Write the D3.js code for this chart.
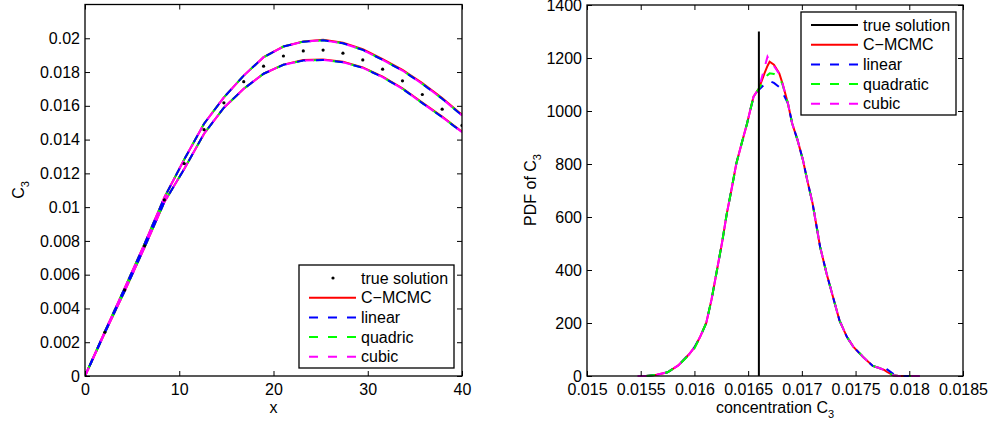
<!DOCTYPE html>
<html>
<head>
<meta charset="utf-8">
<script src="https://cdn.jsdelivr.net/npm/d3@7/dist/d3.min.js"></script>
<style>
  html, body { margin: 0; padding: 0; background: #fff; }
  svg { display: block; font-family: "Liberation Sans", Arial, Helvetica, sans-serif; }
</style>
</head>
<body>
<svg id="fig" width="990" height="425"></svg>
<script>
// ---- Left panel: C3 profile along x ----
const xPos = [0, 2.105, 4.211, 6.316, 8.421, 10.526, 12.632, 14.737, 16.842, 18.947,
  21.053, 23.158, 25.263, 27.368, 29.474, 31.579, 33.684, 35.789, 37.895, 40];
const trueSolution = [0, 0.00259, 0.00510, 0.00771, 0.01043, 0.01258, 0.01459, 0.01618, 0.01743, 0.01835,
  0.01895, 0.01925, 0.01930, 0.01912, 0.01872, 0.01817, 0.01748, 0.01667, 0.01580, 0.01484];
// C-MCMC band bounds
const cmcmcUpper = [0, 0.00263, 0.00520, 0.00782, 0.01057, 0.01282, 0.01494, 0.01650, 0.01779, 0.01888,
  0.01951, 0.01981, 0.01991, 0.01974, 0.01935, 0.01876, 0.01813, 0.01734, 0.01646, 0.01547];
const cmcmcLower = [0, 0.00256, 0.00503, 0.00762, 0.01030, 0.01226, 0.01435, 0.01589, 0.01701, 0.01790,
  0.01844, 0.01871, 0.01875, 0.01861, 0.01828, 0.01773, 0.01704, 0.01619, 0.01536, 0.01447];
// surrogate band bounds
const linearUpper = [0, 0.00263, 0.00520, 0.00782, 0.01057, 0.01282, 0.01494, 0.01650, 0.01779, 0.01888,
  0.01951, 0.01980, 0.01988, 0.01970, 0.01931, 0.01872, 0.01809, 0.01730, 0.01642, 0.01543];
const linearLower = [0, 0.00256, 0.00503, 0.00762, 0.01030, 0.01226, 0.01435, 0.01589, 0.01701, 0.01790,
  0.01843, 0.01868, 0.01872, 0.01858, 0.01825, 0.01770, 0.01701, 0.01616, 0.01533, 0.01444];
const quadricUpper = [0, 0.00263, 0.00520, 0.00782, 0.01057, 0.01282, 0.01494, 0.01650, 0.01779, 0.01888,
  0.01951, 0.01980, 0.01988, 0.01970, 0.01931, 0.01872, 0.01809, 0.01730, 0.01642, 0.01543];
const quadricLower = [0, 0.00256, 0.00503, 0.00762, 0.01030, 0.01226, 0.01435, 0.01589, 0.01701, 0.01790,
  0.01843, 0.01868, 0.01872, 0.01858, 0.01825, 0.01770, 0.01701, 0.01616, 0.01533, 0.01444];
const cubicUpper = [0, 0.00263, 0.00520, 0.00782, 0.01057, 0.01282, 0.01494, 0.01650, 0.01779, 0.01888,
  0.01951, 0.01980, 0.01988, 0.01970, 0.01931, 0.01872, 0.01809, 0.01730, 0.01642, 0.01543];
const cubicLower = [0, 0.00256, 0.00503, 0.00762, 0.01030, 0.01226, 0.01435, 0.01589, 0.01701, 0.01790,
  0.01843, 0.01868, 0.01872, 0.01858, 0.01825, 0.01770, 0.01701, 0.01616, 0.01533, 0.01444];
const xTicks = [0, 10, 20, 30, 40];
const c3Ticks = [0, 0.002, 0.004, 0.006, 0.008, 0.01, 0.012, 0.014, 0.016, 0.018, 0.02];

// ---- Right panel: PDF of C3 ----
const concGrid = [0.01547, 0.01555, 0.01565, 0.01575, 0.01585, 0.01595, 0.01600, 0.01605, 0.01611, 0.01616,
  0.01621, 0.01626, 0.01630, 0.01635, 0.01639, 0.01644, 0.01649, 0.01652, 0.01655, 0.01660,
  0.01665, 0.01668, 0.01670, 0.01674, 0.01679, 0.01682, 0.01687, 0.01691, 0.01696, 0.01701,
  0.01705, 0.01710, 0.01717, 0.01723, 0.01729, 0.01735, 0.01742, 0.01748, 0.01757, 0.01766,
  0.01772, 0.01777, 0.01779, 0.01785, 0.01790, 0.01800, 0.01806, 0.01810, 0.01816];
const pdfCmcmc = [null, 0, 5, 14, 40, 82, 108, 145, 200, 290,
  400, 510, 610, 714, 802, 878, 953, 1004, 1054, 1085,
  1140, 1170, 1186, 1175, 1142, 1104, 1029, 953, 890, 815,
  739, 651, 487, 387, 298, 210, 147, 110, 72, 38,
  30, 22, 16, 3, 0, 0, 0, null, null];
const pdfLinear = [null, 0, 5, 14, 40, 82, 108, 145, 200, 290,
  400, 510, 610, 714, 802, 878, 953, 1004, 1050, 1080,
  1100, 1112, 1113, 1106, 1090, 1070, 1029, 953, 890, 815,
  739, 651, 487, 387, 298, 210, 147, 110, 72, 38,
  30, 32, 26, 8, 0, 0, 0, 0, null];
const pdfQuadratic = [null, 0, 5, 14, 40, 80, 104, 145, 200, 290,
  400, 510, 610, 714, 802, 878, 953, 1004, 1054, 1085,
  1115, 1135, 1142, 1140, 1128, 1100, 1029, 953, 890, 815,
  739, 651, 487, 387, 298, 210, 147, 110, 72, 38,
  30, 22, 16, 3, 0, 0, 0, 0, 0];
const pdfCubic = [0, 0, 5, 14, 40, 82, 108, 145, 200, 290,
  400, 510, 610, 714, 802, 878, 953, 1004, 1054, 1085,
  1160, 1205, 1190, 1170, 1140, 1104, 1029, 953, 890, 815,
  739, 651, 487, 387, 298, 210, 147, 110, 72, 38,
  30, 22, 16, 3, 0, 0, 0, 0, 0];
const trueC3 = 0.0166;
const trueLineTop = 1300;
const concTicks = [0.015, 0.0155, 0.016, 0.0165, 0.017, 0.0175, 0.018, 0.0185];
const pdfTicks = [0, 200, 400, 600, 800, 1000, 1200, 1400];

const legendLeft = ["true solution", "C\u2212MCMC", "linear", "quadric", "cubic"];
const legendRight = ["true solution", "C\u2212MCMC", "linear", "quadratic", "cubic"];

const colors = { cmcmc: "#ff0000", linear: "#0000ff", quad: "#00ff00", cubic: "#ff00ff" };
const FONT = 16;

const svg = d3.select("#fig");
const fmt = d => String(+d.toFixed(6));

function frame(g, x, y, xt, yt) {
  const [x0, x1] = x.range();
  const [y0, y1] = y.range();
  g.append("g").attr("transform", `translate(0,${y0})`)
    .call(d3.axisBottom(x).tickValues(xt).tickSize(-5).tickPadding(8).tickFormat(fmt));
  g.append("g").attr("transform", `translate(0,${y1})`)
    .call(d3.axisTop(x).tickValues(xt).tickSize(-5).tickFormat(""));
  g.append("g").attr("transform", `translate(${x0},0)`)
    .call(d3.axisLeft(y).tickValues(yt).tickSize(-5).tickPadding(5).tickFormat(fmt));
  g.append("g").attr("transform", `translate(${x1},0)`)
    .call(d3.axisRight(y).tickValues(yt).tickSize(-5).tickFormat(""));
  g.selectAll(".domain").remove();
  g.selectAll(".tick line").attr("stroke", "#000").attr("stroke-width", 1);
  g.selectAll(".tick text").attr("font-size", FONT).attr("fill", "#000")
    .attr("font-family", "Liberation Sans, Arial, sans-serif");
  g.append("rect").attr("x", x0).attr("y", y1).attr("width", x1 - x0).attr("height", y0 - y1)
    .attr("fill", "none").attr("stroke", "#000").attr("stroke-width", 1.3);
}

function subLabel(sel, main, sub) {
  sel.append("tspan").text(main);
  sel.append("tspan").attr("font-size", 11).attr("dy", 5).text(sub);
}

// ================= Left panel =================
const L = { x0: 85, x1: 462, top: 4.5, bottom: 376 };
const xL = d3.scaleLinear().domain([0, 40]).range([L.x0, L.x1]);
const yL = d3.scaleLinear().domain([0, 0.022]).range([L.bottom, L.top]);
const gL = svg.append("g");

svg.append("clipPath").attr("id", "clipL").append("rect")
  .attr("x", L.x0).attr("y", L.top).attr("width", L.x1 - L.x0).attr("height", L.bottom - L.top);
const plotL = gL.append("g").attr("clip-path", "url(#clipL)");

const lineL = d3.line().x((d, i) => xL(xPos[i])).y(d => yL(d));

const leftSeries = [
  { key: "cmcmc", bands: [cmcmcUpper, cmcmcLower], color: colors.cmcmc, dash: null, off: 0 },
  { key: "quad", bands: [quadricUpper, quadricLower], color: colors.quad, dash: "9,10", off: 11 },
  { key: "linear", bands: [linearUpper, linearLower], color: colors.linear, dash: "9,10", off: 8 },
  { key: "cubic", bands: [cubicUpper, cubicLower], color: colors.cubic, dash: "9,10", off: 0 }
];
leftSeries.forEach(s => {
  s.bands.forEach(b => {
    plotL.append("path").attr("d", lineL(b)).attr("fill", "none")
      .attr("stroke", s.color).attr("stroke-width", 2)
      .attr("stroke-dasharray", s.dash).attr("stroke-dashoffset", s.off);
  });
});
plotL.selectAll("circle.truth").data(trueSolution).join("circle").attr("class", "truth")
  .attr("cx", (d, i) => xL(xPos[i])).attr("cy", d => yL(d)).attr("r", 1.6).attr("fill", "#000");

frame(gL, xL, yL, xTicks, c3Ticks);

gL.append("text").attr("x", (L.x0 + L.x1) / 2).attr("y", 413).attr("text-anchor", "middle")
  .attr("font-size", FONT).text("x");
subLabel(gL.append("text").attr("transform", "translate(24,190) rotate(-90)")
  .attr("text-anchor", "middle").attr("font-size", FONT), "C", "3");

// legend (left)
function legend(g, box, labels, first) {
  g.append("rect").attr("x", box.x).attr("y", box.y).attr("width", box.w).attr("height", box.h)
    .attr("fill", "#fff").attr("stroke", "#000").attr("stroke-width", 1.3);
  const styles = [
    first,
    { color: colors.cmcmc, dash: null },
    { color: colors.linear, dash: "9,10" },
    { color: colors.quad, dash: "9,10" },
    { color: colors.cubic, dash: "9,10" }
  ];
  labels.forEach((lab, i) => {
    const cy = box.y + 13 + i * 19.7;
    const st = styles[i];
    if (st.dot) {
      g.append("circle").attr("cx", box.x + 34).attr("cy", cy).attr("r", 1.6).attr("fill", "#000");
    } else {
      g.append("line").attr("x1", box.x + 10).attr("x2", box.x + 57).attr("y1", cy).attr("y2", cy)
        .attr("stroke", st.color).attr("stroke-width", 2).attr("stroke-dasharray", st.dash);
    }
    g.append("text").attr("x", box.x + 62).attr("y", cy).attr("dy", "0.35em")
      .attr("font-size", FONT).text(lab);
  });
}
legend(gL, { x: 299, y: 265, w: 155, h: 103 }, legendLeft, { dot: true });

// ================= Right panel =================
const R = { x0: 587, x1: 963, top: 5, bottom: 376 };
const xR = d3.scaleLinear().domain([0.015, 0.0185]).range([R.x0, R.x1]);
const yR = d3.scaleLinear().domain([0, 1400]).range([R.bottom, R.top]);
const gR = svg.append("g");
const plotR = gR.append("g");

const lineR = d3.line().defined(d => d != null)
  .x((d, i) => xR(concGrid[i])).y(d => yR(d));

[[pdfCmcmc, colors.cmcmc, null], [pdfLinear, colors.linear, "9,10"],
 [pdfQuadratic, colors.quad, "9,10"], [pdfCubic, colors.cubic, "9,10"]].forEach(([arr, c, dash]) => {
  plotR.append("path").attr("d", lineR(arr)).attr("fill", "none")
    .attr("stroke", c).attr("stroke-width", 2).attr("stroke-dasharray", dash);
});
plotR.append("line").attr("x1", xR(trueC3)).attr("x2", xR(trueC3))
  .attr("y1", yR(0)).attr("y2", yR(trueLineTop)).attr("stroke", "#000").attr("stroke-width", 2);

frame(gR, xR, yR, concTicks, pdfTicks);

const xlab = gR.append("text").attr("x", (R.x0 + R.x1) / 2).attr("y", 413)
  .attr("text-anchor", "middle").attr("font-size", FONT);
subLabel(xlab, "concentration C", "3");
subLabel(gR.append("text").attr("transform", "translate(536,190) rotate(-90)")
  .attr("text-anchor", "middle").attr("font-size", FONT), "PDF of C", "3");

legend(gR, { x: 801, y: 12, w: 155, h: 103 }, legendRight, { color: "#000", dash: null });
</script>
</body>
</html>
